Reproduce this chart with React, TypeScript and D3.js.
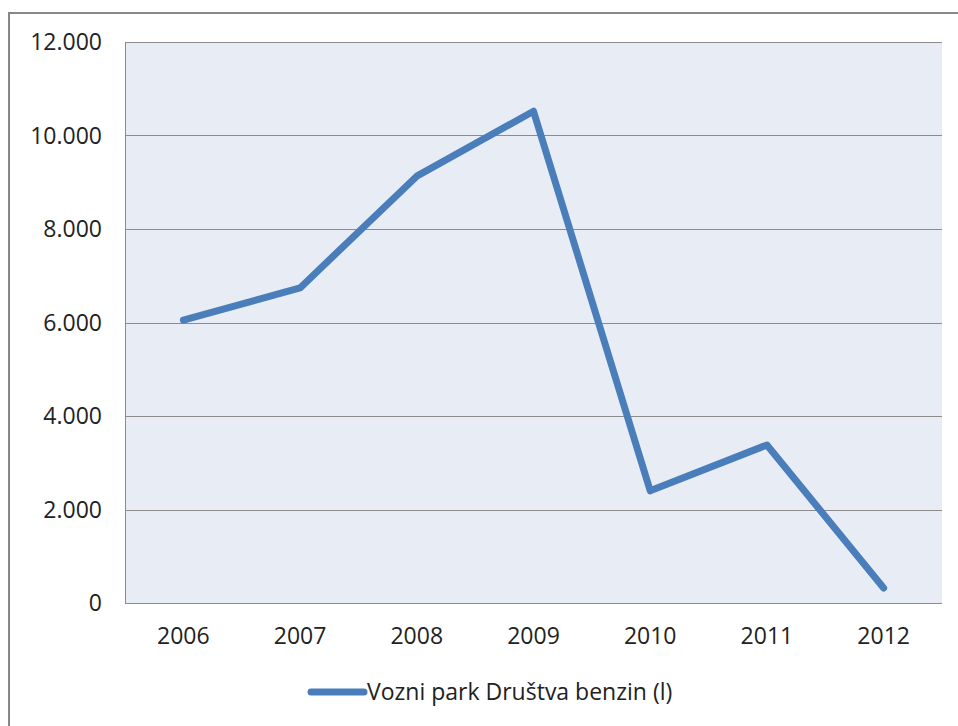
import * as d3 from "d3";
import { useRef, useEffect } from "react";

const years = ["2006", "2007", "2008", "2009", "2010", "2011", "2012"];
const benzin = [6050, 6740, 9130, 10520, 2400, 3380, 320];
const yTicks = [0, 2000, 4000, 6000, 8000, 10000, 12000];
const seriesName = "Vozni park Društva benzin (l)";

const W = 958;
const H = 726;

const fmt = (v: number) => (v === 0 ? "0" : d3.format(",")(v).replace(/,/g, "."));

export default function App() {
  const ref = useRef<SVGSVGElement>(null);

  useEffect(() => {
    const svg = d3.select(ref.current);
    svg.selectAll("*").remove();

    const margin = { top: 42, left: 125, right: 16, bottom: 123 };
    const innerW = W - margin.left - margin.right;
    const innerH = H - margin.top - margin.bottom;

    const x = d3.scaleBand().domain(years).range([0, innerW]);
    const y = d3.scaleLinear().domain([0, 12000]).range([innerH, 0]);

    // outer frame
    svg.append("rect")
      .attr("x", 9).attr("y", 13)
      .attr("width", W + 20).attr("height", H + 20)
      .attr("fill", "white")
      .attr("stroke", "#878787").attr("stroke-width", 2);

    const g = svg.append("g").attr("transform", `translate(${margin.left},${margin.top})`);

    g.append("rect")
      .attr("width", innerW).attr("height", innerH)
      .attr("fill", "#e8ecf4");

    // gridlines
    g.selectAll(".grid")
      .data(yTicks.filter(d => d > 0))
      .enter()
      .append("line")
      .attr("x1", 0).attr("x2", innerW)
      .attr("y1", d => Math.round(y(d)) + 0.5)
      .attr("y2", d => Math.round(y(d)) + 0.5)
      .attr("stroke", "#8c8c8c").attr("stroke-width", 1);

    // axes lines
    g.append("line")
      .attr("x1", 0.5).attr("x2", 0.5).attr("y1", 0).attr("y2", innerH)
      .attr("stroke", "#8c8c8c");
    g.append("line")
      .attr("x1", 0).attr("x2", innerW)
      .attr("y1", innerH + 0.5).attr("y2", innerH + 0.5)
      .attr("stroke", "#8c8c8c");

    const font = "'Open Sans', 'DejaVu Sans', sans-serif";
    const fs = "23px";

    // y labels
    g.selectAll(".ylab")
      .data(yTicks)
      .enter()
      .append("text")
      .attr("x", -23)
      .attr("y", d => y(d))
      .attr("dy", "0.36em")
      .attr("text-anchor", "end")
      .style("font-family", font)
      .style("font-size", fs)
      .style("fill", "#222")
      .text(d => fmt(d));

    // x labels
    g.selectAll(".xlab")
      .data(years)
      .enter()
      .append("text")
      .attr("x", d => (x(d) as number) + x.bandwidth() / 2)
      .attr("y", innerH + 33)
      .attr("dy", "0.36em")
      .attr("text-anchor", "middle")
      .style("font-family", font)
      .style("font-size", fs)
      .style("fill", "#222")
      .text(d => d);

    const line = d3.line<number>()
      .x((_, i) => (x(years[i]) as number) + x.bandwidth() / 2)
      .y(d => y(d));

    g.append("path")
      .datum(benzin)
      .attr("d", line)
      .attr("fill", "none")
      .attr("stroke", "#4a7ebb")
      .attr("stroke-width", 7)
      .attr("stroke-linecap", "round")
      .attr("stroke-linejoin", "round");

    // legend
    const lg = svg.append("g").attr("transform", `translate(0, 692)`);
    lg.append("line")
      .attr("x1", 311).attr("x2", 364)
      .attr("y1", 0).attr("y2", 0)
      .attr("stroke", "#4a7ebb").attr("stroke-width", 7)
      .attr("stroke-linecap", "round");
    lg.append("text")
      .attr("x", 367).attr("y", 0)
      .attr("dy", "0.36em")
      .style("font-family", font)
      .style("font-size", fs)
      .style("fill", "#222")
      .text(seriesName);
  }, []);

  return (
    <svg ref={ref} width={W} height={H} style={{ position: "absolute", left: 0, top: 0 }} />
  );
}
